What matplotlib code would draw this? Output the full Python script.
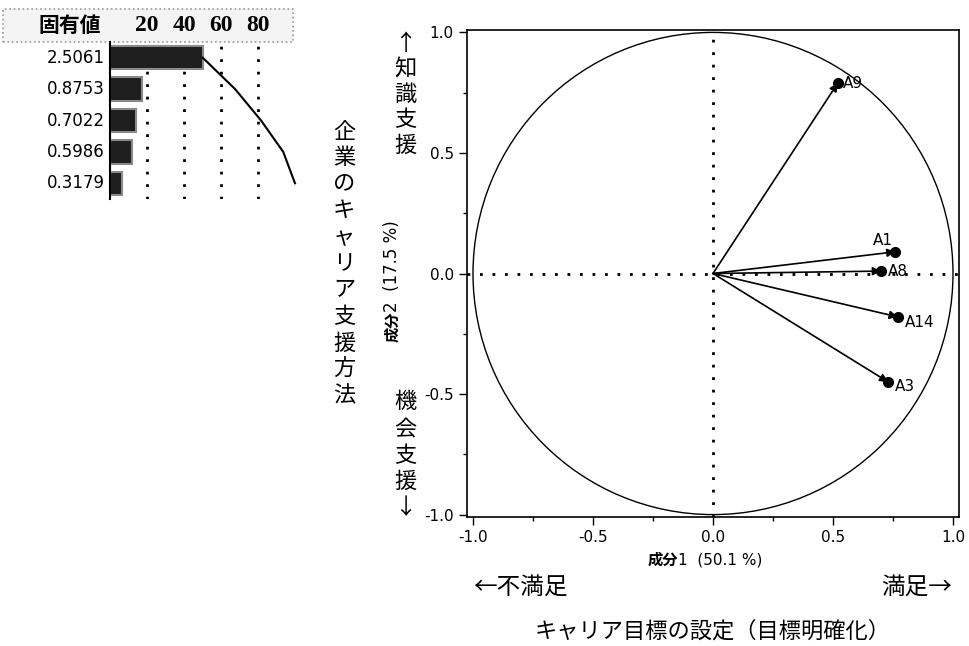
import numpy as np
import matplotlib
matplotlib.use("Agg")
import matplotlib.pyplot as plt
from matplotlib.patches import Circle, Rectangle

plt.rcParams["font.family"] = ["DejaVu Sans", "Noto Sans CJK JP"]
JP = ["Noto Sans CJK JP", "DejaVu Sans"]

# eigenvalues (固有値) and their percent share
eigenvalues = [2.5061, 0.8753, 0.7022, 0.5986, 0.3179]
eigen_labels = ["2.5061", "0.8753", "0.7022", "0.5986", "0.3179"]
header_ticks = [20, 40, 60, 80]

# loadings on 成分1 / 成分2
var_names = ["A9", "A1", "A8", "A14", "A3"]
load_x = [0.52, 0.76, 0.70, 0.77, 0.73]
load_y = [0.79, 0.09, 0.01, -0.18, -0.45]
label_offsets = {"A9": (4, 0, "left", "center"),
                 "A1": (-2, 3, "right", "bottom"),
                 "A8": (5, 0, "left", "center"),
                 "A14": (5, -4, "left", "center"),
                 "A3": (5, -3, "left", "center")}

W, H = 970, 646
fig = plt.figure(figsize=(W / 100, H / 100), dpi=100)


def fx(px):
    return px / W


def fy(py):
    return 1 - py / H


# ---------------- eigenvalue bar table ----------------
pct = np.array(eigenvalues) / np.sum(eigenvalues) * 100
cum = np.cumsum(pct)
rows = np.arange(len(eigenvalues))

fig.patches.append(Rectangle((fx(3), fy(42)), fx(290), 33 / H, transform=fig.transFigure,
                             facecolor="#f4f4f4", edgecolor="#9a9a9a", linestyle=":",
                             linewidth=1.2, zorder=-1))
fig.text(fx(70), fy(25), "固有値", family=JP, fontweight="bold", fontsize=15,
         ha="center", va="center")

axb = fig.add_axes([fx(110), fy(199), fx(185), 157 / H])
axb.barh(rows, pct, height=0.75, color="#1e1e1e", edgecolor="#8a8a8a", linewidth=1.5, zorder=2)
axb.plot(cum, rows, color="black", linewidth=1.5, clip_on=False, zorder=3)
for t in header_ticks:
    axb.axvline(t, color="black", linestyle=(0, (1, 3.5)), linewidth=2, zorder=1)
    axb.text(t, 1.108, str(t), transform=axb.get_xaxis_transform(), ha="center", va="center",
             family="Liberation Serif", fontweight="bold", fontsize=17, clip_on=False)
for i, lab in enumerate(eigen_labels):
    axb.text(-3, i, lab, ha="right", va="center", fontsize=12)
axb.set_xlim(0, 100)
axb.set_ylim(4.5, -0.5)
axb.set_xticks([])
axb.set_yticks([])
axb.patch.set_alpha(0)
for s in ["top", "right", "bottom"]:
    axb.spines[s].set_visible(False)
axb.spines["left"].set_linewidth(1.5)

# ---------------- loading plot ----------------
ax = fig.add_axes([fx(467), fy(517), fx(492), 487 / H])
ax.add_patch(Circle((0, 0), 1.0, fill=False, edgecolor="black", linewidth=1.0, clip_on=False))
ax.axhline(0, color="black", linestyle=(0, (1, 3.5)), linewidth=2)
ax.axvline(0, color="black", linestyle=(0, (1, 3.5)), linewidth=2)
for name, x, y in zip(var_names, load_x, load_y):
    ax.annotate("", xy=(x, y), xytext=(0, 0),
                arrowprops=dict(arrowstyle="-|>", color="black", lw=1.2, mutation_scale=12,
                                shrinkA=0, shrinkB=0))
    ax.plot(x, y, "o", color="black", markersize=7)
    dx, dy, ha, va = label_offsets[name]
    ax.annotate(name, xy=(x, y), xytext=(dx, dy), textcoords="offset points",
                ha=ha, va=va, fontsize=11)

ax.set_xlim(-1.025, 1.025)
ax.set_ylim(-1.01, 1.01)
ticks = [-1.0, -0.5, 0.0, 0.5, 1.0]
ax.set_xticks(ticks)
ax.set_yticks(ticks)
ax.set_xticklabels([f"{t:.1f}" for t in ticks])
ax.set_yticklabels([f"{t:.1f}" for t in ticks])
ax.set_xticks([-0.75, -0.25, 0.25, 0.75], minor=True)
ax.set_yticks([-0.75, -0.25, 0.25, 0.75], minor=True)
ax.tick_params(which="major", length=6, width=1, labelsize=11, direction="out")
ax.tick_params(which="minor", length=3, width=1, direction="out")
for s in ax.spines.values():
    s.set_linewidth(1.2)

# axis titles: 成分 in bold, rest normal
t1 = fig.text(fx(648), fy(560), "成分", family=JP, fontweight="bold", fontsize=11,
              ha="left", va="center")
ax.annotate("1  (50.1 %)", xy=(1, 0.5), xycoords=t1, ha="left", va="center", fontsize=11)
t2 = fig.text(fx(392), fy(342), "成分", family=JP, fontweight="bold", fontsize=11,
              rotation=90, ha="center", va="bottom")
ax.annotate("2  (17.5 %)", xy=(0.5, 1), xycoords=t2, ha="center", va="bottom",
            rotation=90, fontsize=12)

# japanese annotations
fig.text(fx(473), fy(587), "←不満足", family=JP, fontsize=17, ha="left", va="center")
fig.text(fx(952), fy(587), "満足→", family=JP, fontsize=17, ha="right", va="center")
fig.text(fx(713), fy(631), "キャリア目標の設定（目標明確化）", family=JP, fontsize=16,
         ha="center", va="center")


def vertical(s, x, y0, step, size):
    for k, ch in enumerate(s):
        fig.text(fx(x), fy(y0 + k * step), ch, family=JP, fontsize=size,
                 ha="center", va="center")


vertical("↑知識支援", 405, 43, 25.5, 16)
vertical("機会支援↓", 405, 402, 26.5, 16)
vertical("企業のキャリア支援方法", 344, 131, 26.5, 16)

fig.savefig("out.png", dpi=100)
